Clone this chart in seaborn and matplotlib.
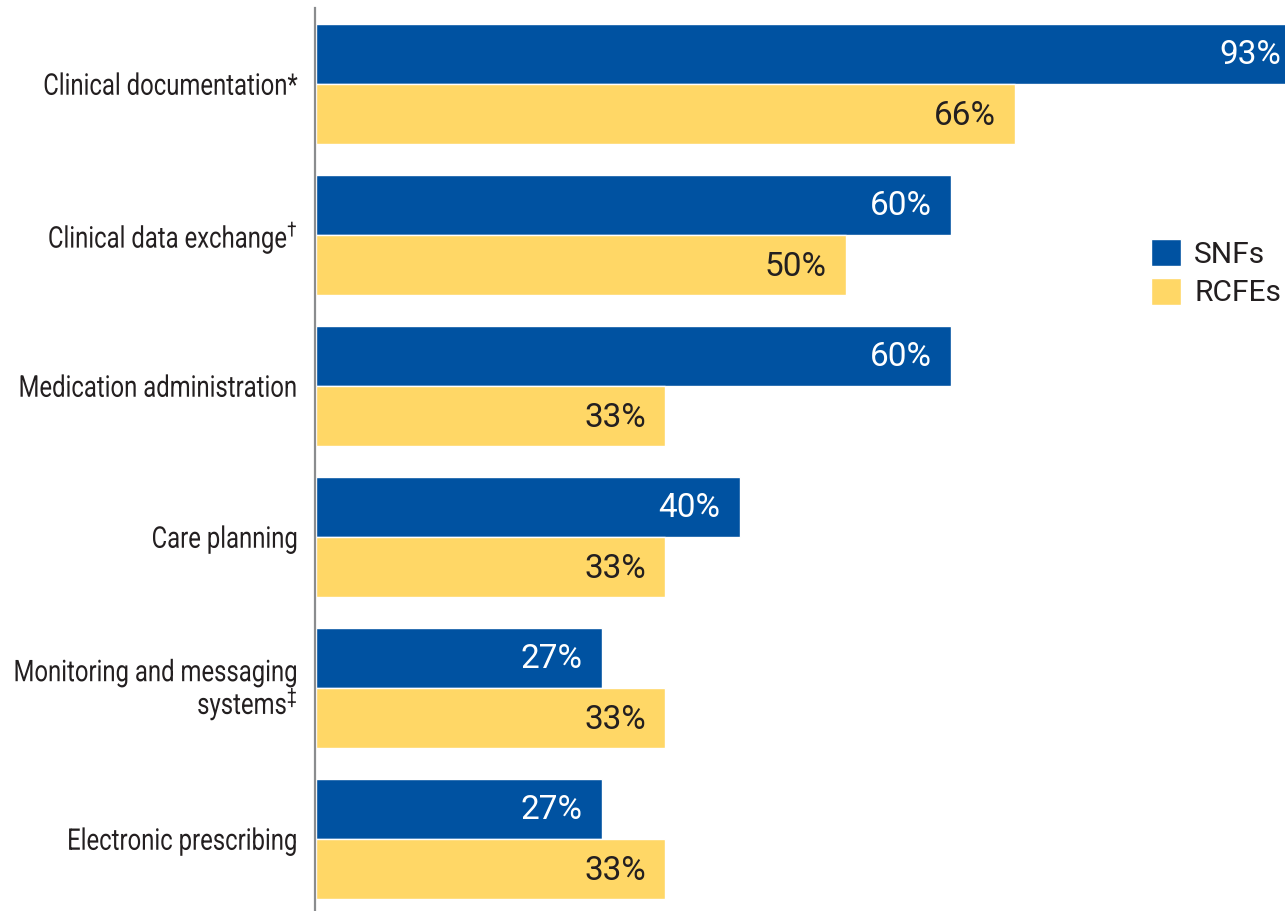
import matplotlib
matplotlib.use("Agg")
import matplotlib.pyplot as plt
import pandas as pd
import seaborn as sns
from matplotlib.patheffects import AbstractPathEffect
from matplotlib.text import Text
from matplotlib.transforms import Affine2D, Bbox, ScaledTranslation

# Share of facilities using each EHR function
categories = [
    "Clinical documentation*",
    "Clinical data exchange$^{†}$",
    "Medication administration",
    "Care planning",
    "Monitoring and messaging\nsystems$^{‡}$",
    "Electronic prescribing",
]
snf_share = [93, 60, 60, 40, 27, 27]
rcfe_share = [66, 50, 33, 33, 33, 33]
groups = ["SNFs", "RCFEs"]

BLUE = "#0052A1"
YELLOW = "#FFD766"
INK = "#231F20"
FONT = ["Roboto", "DejaVu Sans"]
SQUEEZE = 0.8


class Condense(AbstractPathEffect):
    """Squeeze glyphs horizontally, keeping the right edge of each line fixed."""

    def __init__(self, sx=0.8):
        super().__init__()
        self.sx = sx

    def draw_path(self, renderer, gc, tpath, affine, rgbFace=None):
        x = tpath.get_extents(affine).x1
        squeeze = Affine2D().translate(-x, 0).scale(self.sx, 1).translate(x, 0)
        renderer.draw_path(gc, tpath, affine + squeeze, rgbFace)


class CondensedText(Text):
    """Right-aligned text drawn in a narrower (condensed) form."""

    def __init__(self, *args, sx=0.8, **kwargs):
        super().__init__(*args, **kwargs)
        self._sx = sx
        self.set_path_effects([Condense(sx)])

    def get_window_extent(self, renderer=None, dpi=None):
        bb = super().get_window_extent(renderer, dpi)
        x0 = bb.x1 - (bb.x1 - bb.x0) * self._sx
        return Bbox([[x0, bb.y0], [bb.x1, bb.y1]])


df = pd.DataFrame({
    "category": categories * 2,
    "share": snf_share + rcfe_share,
    "group": [groups[0]] * len(categories) + [groups[1]] * len(categories),
})

sns.set_style("white")
plt.rcParams["mathtext.default"] = "regular"
plt.rcParams["font.family"] = FONT

W, H = 1285, 911
fig = plt.figure(figsize=(W / 100, H / 100), dpi=100)
x0_px = 316
ax = fig.add_axes([x0_px / W, 0, 1 - x0_px / W, 1])

sns.barplot(
    data=df, y="category", x="share", hue="group", orient="h",
    palette=[BLUE, YELLOW], saturation=1, width=0.8, order=categories,
    hue_order=groups, ax=ax, errorbar=None,
)

px_per_unit = 10.59
ax.set_xlim(0, (W - x0_px) / px_per_unit)
ax.set_ylim(5.477, -0.556)

# value labels just inside the end of each bar
text_colors = {groups[0]: "white", groups[1]: INK}
for container, grp in zip(ax.containers, groups):
    for patch in container:
        val = patch.get_width()
        y = patch.get_y() + patch.get_height() / 2
        ax.annotate(
            f"{val:.0f}%", (val, y), xytext=(-14, -1), textcoords="offset points",
            ha="right", va="center", color=text_colors[grp], fontsize=24,
            annotation_clip=False,
        )

for s in ["top", "right", "bottom"]:
    ax.spines[s].set_visible(False)
ax.spines["left"].set_color("#8A8C8E")
ax.spines["left"].set_linewidth(1.6)
ax.spines["left"].set_bounds(5.477, -0.503)
ax.spines["left"].set_position(("outward", 1))

# category labels, condensed, to the left of the axis line
ax.set_xticks([])
ax.set_yticks([])
ax.set_xlabel("")
ax.set_ylabel("")
label_tf = ax.get_yaxis_transform() + ScaledTranslation(-13 / 72, -2 / 72, fig.dpi_scale_trans)
for i, cat in enumerate(categories):
    ax.add_artist(CondensedText(
        0, i, cat, sx=SQUEEZE, transform=label_tf, ha="right", va="center",
        fontsize=21.5, color=INK, linespacing=0.95, fontfamily=FONT,
        clip_on=False,
    ))

sns.move_legend(
    ax, "center left", bbox_to_anchor=(0.8617, 0.700), title=None,
    frameon=False, fontsize=21.5, handlelength=1.0, handleheight=1.0,
    handletextpad=0.45, labelspacing=0.3, borderpad=0, borderaxespad=0,
)
for t in ax.get_legend().get_texts():
    t.set_color(INK)

fig.savefig("out.png", dpi=100, facecolor="white")
